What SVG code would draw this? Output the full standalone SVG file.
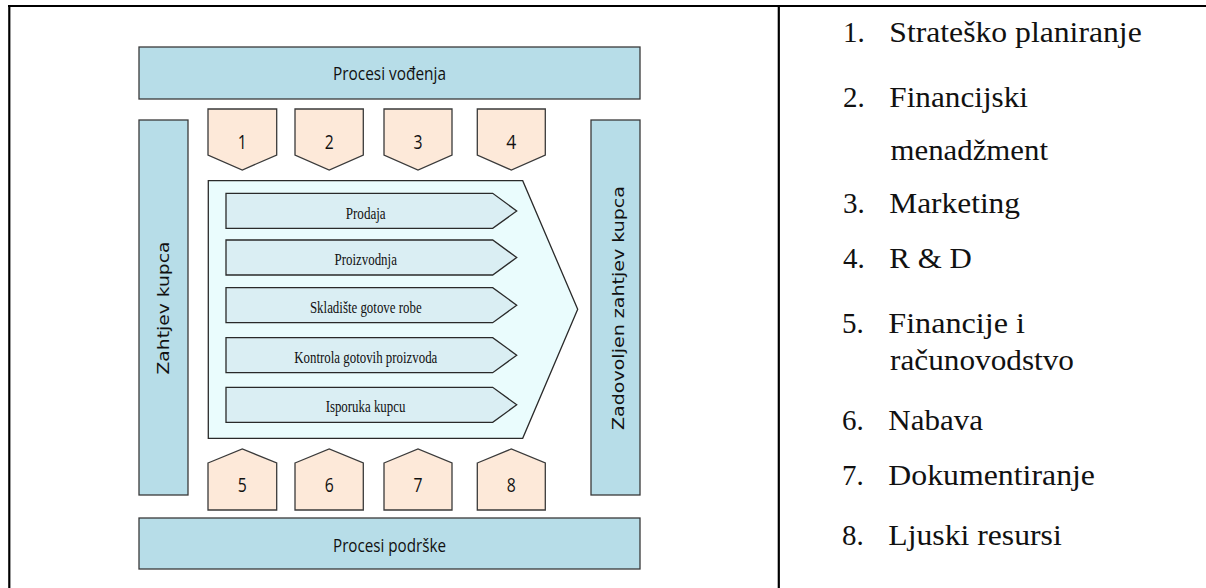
<svg xmlns="http://www.w3.org/2000/svg" width="1206" height="588" viewBox="0 0 1206 588">
<style>
.bar{fill:#b7dde8;stroke:#3a3a3a;stroke-width:1.3}
.pent{fill:#fde9d9;stroke:#3a3a3a;stroke-width:1.3}
.cont{fill:#eafcfd;stroke:#2a2a2a;stroke-width:1.3}
.arr{fill:#daeef3;stroke:#2a2a2a;stroke-width:1.3}
.frame{stroke:#000;stroke-width:2.2;fill:none}
</style>
<rect width="1206" height="588" fill="#fff"/>
<g id="frame">
<line class="frame" x1="8" y1="6" x2="1206" y2="6"/>
<line class="frame" x1="9.3" y1="5" x2="9.3" y2="588"/>
<line class="frame" x1="778.8" y1="5" x2="778.8" y2="588"/>
</g>
<g font-family="Open Sans, Noto Sans, sans-serif" font-size="19" fill="#111" text-anchor="middle">
<g id="procesi-vodenja">
<rect class="bar" x="139" y="47" width="501" height="52"/>
<text x="389.5" y="79.5" textLength="113" lengthAdjust="spacingAndGlyphs">Procesi vođenja</text>
</g>
<g id="procesi-podrske">
<rect class="bar" x="139" y="518" width="501" height="51"/>
<text x="389.5" y="551.5" textLength="113" lengthAdjust="spacingAndGlyphs">Procesi podrške</text>
</g>
</g>
<g font-family="DejaVu Sans, Verdana, sans-serif" font-size="16.5" fill="#111" text-anchor="middle">
<g id="zahtjev-kupca">
<rect class="bar" x="139" y="120" width="49" height="375"/>
<text transform="translate(168.5,308) rotate(-90)" x="0" y="0" textLength="133" lengthAdjust="spacingAndGlyphs">Zahtjev kupca</text>
</g>
<g id="zadovoljen-zahtjev-kupca">
<rect class="bar" x="591" y="120" width="49" height="375"/>
<text transform="translate(623.5,308) rotate(-90)" x="0" y="0" textLength="244" lengthAdjust="spacingAndGlyphs">Zadovoljen zahtjev kupca</text>
</g>
</g>
<g font-family="Open Sans, Noto Sans, sans-serif" font-size="20" fill="#111" text-anchor="middle">
<g id="p1"><polygon class="pent" points="208,109 276.7,109 276.7,155 242.3,170 208,155"/><text x="242.3" y="149" textLength="9" lengthAdjust="spacingAndGlyphs">1</text></g>
<g id="p2"><polygon class="pent" points="295,109 363.3,109 363.3,155 329.2,170 295,155"/><text x="329.2" y="149" textLength="9" lengthAdjust="spacingAndGlyphs">2</text></g>
<g id="p3"><polygon class="pent" points="384,109 452,109 452,155 418,170 384,155"/><text x="418" y="149" textLength="9" lengthAdjust="spacingAndGlyphs">3</text></g>
<g id="p4"><polygon class="pent" points="477.3,109 545.3,109 545.3,155 511.3,170 477.3,155"/><text x="511.3" y="149" textLength="10" lengthAdjust="spacingAndGlyphs">4</text></g>
<g id="p5"><polygon class="pent" points="208,463 242.3,449 276.7,463 276.7,510 208,510"/><text x="242.3" y="492" textLength="9" lengthAdjust="spacingAndGlyphs">5</text></g>
<g id="p6"><polygon class="pent" points="295,463 329.2,449 363.3,463 363.3,510 295,510"/><text x="329.2" y="492" textLength="9" lengthAdjust="spacingAndGlyphs">6</text></g>
<g id="p7"><polygon class="pent" points="384,463 418,449 452,463 452,510 384,510"/><text x="418" y="492" textLength="9" lengthAdjust="spacingAndGlyphs">7</text></g>
<g id="p8"><polygon class="pent" points="477.3,463 511.3,449 545.3,463 545.3,510 477.3,510"/><text x="511.3" y="492" textLength="9" lengthAdjust="spacingAndGlyphs">8</text></g>
</g>
<g id="lanac">
<polygon class="cont" points="208.3,180.7 522.7,180.7 577.7,309.3 522.7,438.3 208.3,438.3"/>
</g>
<g font-family="Liberation Serif, DejaVu Serif, serif" font-size="17" fill="#111" text-anchor="middle">
<g id="prodaja"><polygon class="arr" points="226,193.3 492.7,193.3 516.7,211 492.7,228.3 226,228.3"/><text x="365.7" y="218.5" textLength="40" lengthAdjust="spacingAndGlyphs">Prodaja</text></g>
<g id="proizvodnja"><polygon class="arr" points="226,240 492.7,240 516.7,257.5 492.7,275 226,275"/><text x="365.7" y="264.5" textLength="62.4" lengthAdjust="spacingAndGlyphs">Proizvodnja</text></g>
<g id="skladiste"><polygon class="arr" points="226,287.7 492.7,287.7 516.7,305.2 492.7,322.7 226,322.7"/><text x="365.8" y="312.7" textLength="111.7" lengthAdjust="spacingAndGlyphs">Skladište gotove robe</text></g>
<g id="kontrola"><polygon class="arr" points="226,337.7 492.7,337.7 516.7,355.2 492.7,372.7 226,372.7"/><text x="365.8" y="362.7" textLength="143" lengthAdjust="spacingAndGlyphs">Kontrola gotovih proizvoda</text></g>
<g id="isporuka"><polygon class="arr" points="226,387.3 492.7,387.3 516.7,404.8 492.7,422.3 226,422.3"/><text x="365.5" y="412.3" textLength="79.7" lengthAdjust="spacingAndGlyphs">Isporuka kupcu</text></g>
</g>
<g id="legenda" font-family="Liberation Serif, DejaVu Serif, serif" font-size="29" fill="#111">
<text x="843" y="42">1.</text><text x="889.3" y="42" textLength="252.4" lengthAdjust="spacingAndGlyphs">Strateško planiranje</text>
<text x="843" y="106.7">2.</text><text x="889.3" y="106.7" textLength="138.7" lengthAdjust="spacingAndGlyphs">Financijski</text>
<text x="890.5" y="160" textLength="157.5" lengthAdjust="spacingAndGlyphs">menadžment</text>
<text x="843" y="213.3">3.</text><text x="889.3" y="213.3" textLength="130.7" lengthAdjust="spacingAndGlyphs">Marketing</text>
<text x="843" y="268.3">4.</text><text x="889.3" y="268.3" textLength="82.4" lengthAdjust="spacingAndGlyphs">R &amp; D</text>
<text x="842" y="333.3">5.</text><text x="888.3" y="333.3" textLength="136.7" lengthAdjust="spacingAndGlyphs">Financije i</text>
<text x="890" y="369.5" textLength="184" lengthAdjust="spacingAndGlyphs">računovodstvo</text>
<text x="842" y="430">6.</text><text x="888.3" y="430" textLength="94.7" lengthAdjust="spacingAndGlyphs">Nabava</text>
<text x="842" y="485">7.</text><text x="888.3" y="485" textLength="206.7" lengthAdjust="spacingAndGlyphs">Dokumentiranje</text>
<text x="842" y="545">8.</text><text x="888.3" y="545" textLength="173.4" lengthAdjust="spacingAndGlyphs">Ljuski resursi</text>
</g>
</svg>
